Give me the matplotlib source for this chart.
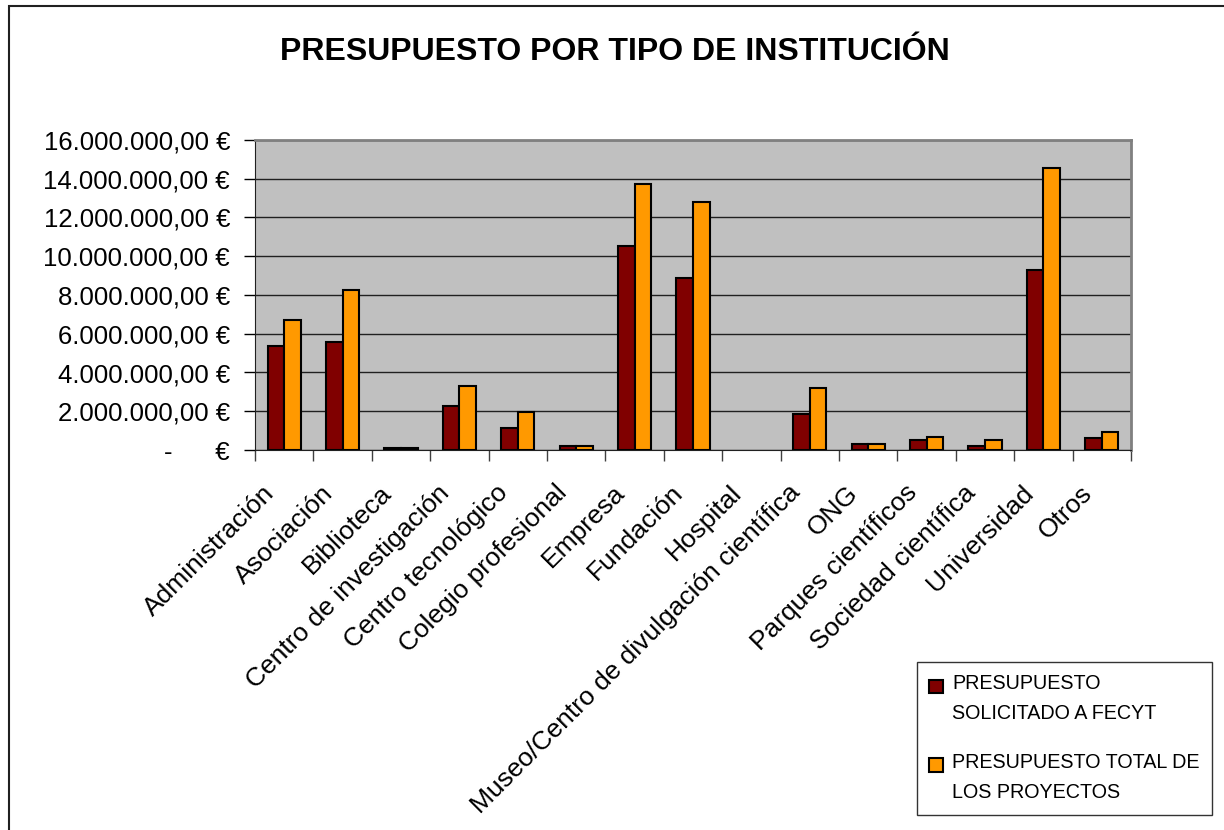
import matplotlib
matplotlib.use("Agg")
import matplotlib.pyplot as plt
from matplotlib.patches import Rectangle
from matplotlib.container import BarContainer
from matplotlib.legend_handler import HandlerPatch, update_from_first_child
from matplotlib.ticker import FuncFormatter
from matplotlib.transforms import ScaledTranslation
import numpy as np

plt.rcParams['font.family'] = ['Liberation Sans', 'DejaVu Sans']

categories = ['Administración', 'Asociación', 'Biblioteca', 'Centro de investigación',
              'Centro tecnológico', 'Colegio profesional', 'Empresa', 'Fundación',
              'Hospital', 'Museo/Centro de divulgación científica', 'ONG',
              'Parques científicos', 'Sociedad científica', 'Universidad', 'Otros']
solicitado = [5370000, 5590000, 120000, 2290000, 1150000, 220000, 10550000, 8890000,
              0, 1880000, 330000, 520000, 220000, 9310000, 640000]
total = [6710000, 8260000, 120000, 3320000, 1960000, 220000, 13750000, 12820000,
         0, 3220000, 330000, 650000, 530000, 14570000, 950000]
yticks = np.arange(0, 16000001, 2000000)


def euro(v, pos):
    if v == 0:
        return '-      €'
    s = f'{v:,.2f}'.replace(',', 'X').replace('.', ',').replace('X', '.')
    return s + ' €'


def top_square(legend, orig_handle, xdescent, ydescent, width, height, fontsize):
    # put the swatch next to the first line of the two-line label
    return Rectangle((-xdescent, -ydescent + 0.66 * fontsize), width, height)


fig = plt.figure(figsize=(12.24, 8.30), dpi=100)
ax = fig.add_axes([255 / 1224, 1 - 450 / 830, (1131 - 255) / 1224, (450 - 140) / 830])

x = np.arange(len(categories))
w = 0.285
b1 = ax.bar(x - w / 2, solicitado, w, color='#800000', edgecolor='black', linewidth=1.5,
            label='PRESUPUESTO\nSOLICITADO A FECYT', zorder=3)
b2 = ax.bar(x + w / 2, total, w, color='#FF9900', edgecolor='black', linewidth=1.5,
            label='PRESUPUESTO TOTAL DE\nLOS PROYECTOS', zorder=3)
for p in list(b1) + list(b2):
    if p.get_height() == 0:
        p.set_visible(False)

ax.set_facecolor('#C0C0C0')
ax.set_xlim(-0.5, len(categories) - 0.5)
ax.set_ylim(0, 16000000)
ax.set_yticks(yticks)
ax.yaxis.set_major_formatter(FuncFormatter(euro))
ax.grid(axis='y', color='#202020', linewidth=1, zorder=1)
ax.tick_params(axis='y', labelsize=18.5, length=8, width=1, direction='out', pad=10)

# category boundary ticks, labels centered
ax.set_xticks(np.arange(len(categories) + 1) - 0.5)
ax.set_xticklabels([])
ax.set_xticks(x, minor=True)
ax.set_xticklabels(categories, minor=True, rotation=45, ha='right', rotation_mode='anchor',
                   fontsize=19)
ax.tick_params(axis='x', which='major', length=8, width=1, color='#404040')
ax.tick_params(axis='x', which='minor', length=0, pad=12)
shift = ScaledTranslation(-0.22, -0.14, fig.dpi_scale_trans)
for lab in ax.get_xticklabels(minor=True):
    lab.set_transform(lab.get_transform() + shift)

for side in ['top', 'right']:
    ax.spines[side].set_color('#808080')
    ax.spines[side].set_linewidth(2)
ax.spines['left'].set_color('#202020')
ax.spines['bottom'].set_color('#202020')

fig.text(615 / 1224, 1 - 52 / 830, 'PRESUPUESTO POR TIPO DE INSTITUCIÓN',
         ha='center', va='center', fontsize=23, fontweight='bold')

leg = fig.legend(loc='upper left', bbox_to_anchor=(917 / 1224, 1 - 662 / 830),
                 borderaxespad=0, fontsize=14.2, frameon=True, fancybox=False,
                 edgecolor='black', handlelength=0.68, handleheight=0.68,
                 handletextpad=0.5, labelspacing=1.5, borderpad=0.62,
                 handler_map={BarContainer: HandlerPatch(patch_func=top_square,
                                                         update_func=update_from_first_child)})
leg.get_frame().set_linewidth(1)
for t in leg.get_texts():
    t.set_linespacing(1.75)

fig.patches.append(Rectangle((8.5 / 1224, -0.01), 1.05, 1.01 - 6 / 830,
                             transform=fig.transFigure, fill=False,
                             edgecolor='#202020', linewidth=1.5, figure=fig))

fig.savefig('out.png', dpi=100)
